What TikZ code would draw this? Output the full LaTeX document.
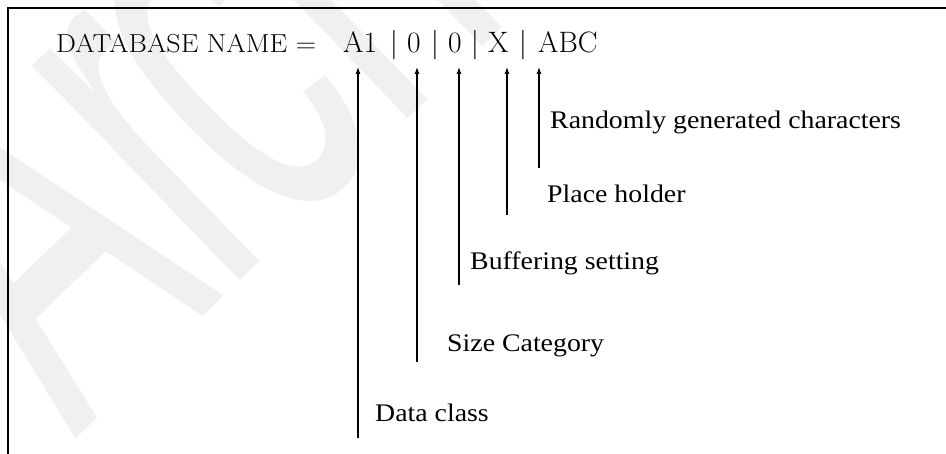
\documentclass[tikz,border=0pt]{standalone}
\usepackage{fontspec}
\usepackage{graphicx}
\newfontfamily\labelfont{Liberation Serif}
\newfontfamily\wmfont{Liberation Sans}
\usetikzlibrary{arrows.meta}
\definecolor{wmgray}{RGB}{240,240,240}
\newcommand{\lblstretch}[1]{\scalebox{1.1}[1]{#1}}
\tikzset{
  lbl/.style={anchor=base west, inner sep=0pt, font=\labelfont\fontsize{25.3}{30}\selectfont},
  hdrstyle/.style={anchor=base west, inner sep=0pt, font=\fontsize{26}{30}\selectfont},
  seg/.style={anchor=base west, inner sep=0pt, font=\fontsize{29.5}{34}\selectfont},
  barsep/.style={anchor=base, inner sep=0pt, font=\fontsize{29.5}{34}\selectfont},
  arr/.style={line width=1.1pt, -{Latex[length=7pt,width=5pt]}},
  frameline/.style={line width=1.3pt},
  wmark/.style={rotate=44, anchor=base west, inner sep=0pt, text=wmgray, font=\wmfont},
}
\begin{document}
\begin{tikzpicture}[x=1pt,y=-1pt]
\useasboundingbox (0,0) rectangle (946,454);
% watermark
\begin{scope}
  \clip (0,0) rectangle (946,454);
  \node[wmark] (wm) at (75,440) {\scalebox{0.55}[1]{\fontsize{565}{600}\selectfont Ar\kern-45pt chived}};
\end{scope}
% frame
\draw[frameline] (8,454) -- (8,8) -- (946,8);
% header
\node[hdrstyle] (hdr) at (56,52.3) {\scalebox{1.08}[1]{DATABASE NAME =}};
\node[seg] (s1) at (343,52.3) {A1};
\node[barsep] (p1) at (394,52.3) {|};
\node[seg] (s2) at (407,52.3) {0};
\node[barsep] (p2) at (435,52.3) {|};
\node[seg] (s3) at (448,52.3) {0};
\node[barsep] (p3) at (475,52.3) {|};
\node[seg] (s4) at (488,52.3) {X};
\node[barsep] (p4) at (523,52.3) {|};
\node[seg] (s5) at (538,52.3) {ABC};
% labels
\node[lbl] (l5) at (550,129) {\lblstretch{Randomly generated characters}};
\node[lbl] (l4) at (547,203) {\lblstretch{Place holder}};
\node[lbl] (l3) at (470,270) {\lblstretch{Buffering setting}};
\node[lbl] (l2) at (447,352) {\lblstretch{Size Category}};
\node[lbl] (l1) at (375,422) {\lblstretch{Data class}};
% arrow ends
\coordinate (b1) at (358,438); \coordinate (t1) at (358,67);
\coordinate (b2) at (417,362); \coordinate (t2) at (417,67);
\coordinate (b3) at (459,285); \coordinate (t3) at (459,67);
\coordinate (b4) at (507,215); \coordinate (t4) at (507,67);
\coordinate (b5) at (539,168); \coordinate (t5) at (539,67);
\draw[arr] (b1) -- (t1);
\draw[arr] (b2) -- (t2);
\draw[arr] (b3) -- (t3);
\draw[arr] (b4) -- (t4);
\draw[arr] (b5) -- (t5);
\end{tikzpicture}
\end{document}
